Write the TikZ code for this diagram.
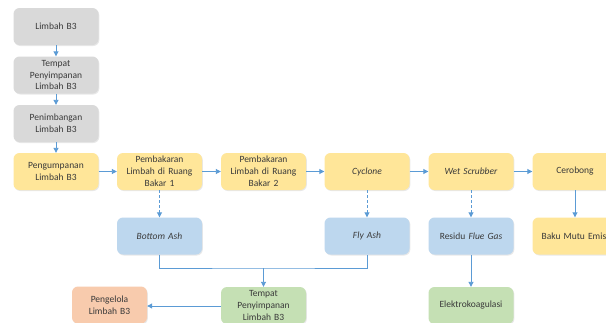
\documentclass[tikz,border=0pt]{standalone}
\usepackage{fontspec}
\setmainfont{Carlito}
\usetikzlibrary{arrows.meta,shadows}
\definecolor{gfill}{HTML}{D9D9D9}
\definecolor{yfill}{HTML}{FFE699}
\definecolor{bfill}{HTML}{BDD7EE}
\definecolor{grfill}{HTML}{C5E0B4}
\definecolor{sfill}{HTML}{F8CBAD}
\definecolor{arr}{HTML}{5B9BD5}
\definecolor{txt}{HTML}{3A3A3A}
\tikzset{
  box/.style={rectangle, rounded corners=6pt, minimum width=85pt, minimum height=37pt,
    text width=80pt, align=center, inner sep=1pt, text=txt,
    font=\fontsize{9.5}{11.8}\selectfont,
    drop shadow={opacity=0.18, shadow xshift=0.8pt, shadow yshift=-1pt}},
  gbox/.style={box, fill=gfill},
  ybox/.style={box, fill=yfill},
  bbox/.style={box, fill=bfill},
  grbox/.style={box, fill=grfill},
  sbox/.style={box, fill=sfill, minimum width=75pt, text width=70pt},
  conn/.style={draw=arr, line width=0.9pt},
  arrow/.style={conn, -{Triangle[length=5pt,width=5pt]}},
  darrow/.style={arrow, dash pattern=on 3pt off 2pt},
}
\begin{document}
\begin{tikzpicture}[x=1pt,y=-1pt]
\useasboundingbox (0,0) rectangle (606,322);
\clip (0,0) rectangle (606,322);
\fill[white] (0,0) rectangle (606,322);
\node[gbox] (g1) at (56,26.5) {Limbah B3};
\node[gbox] (g2) at (56,75) {Tempat\\Penyimpanan\\Limbah B3};
\node[gbox] (g3) at (56,123.5) {Penimbangan\\Limbah B3};
\node[ybox] (y1) at (56,171.5) {Pengumpanan\\Limbah B3};
\node[ybox] (p1) at (159.5,171.5) {Pembakaran\\Limbah di Ruang\\Bakar 1};
\node[ybox] (p2) at (263.5,171.5) {Pembakaran\\Limbah di Ruang\\Bakar 2};
\node[ybox] (cyc) at (367,171.5) {\itshape Cyclone};
\node[ybox] (wet) at (471,171.5) {\itshape Wet Scrubber};
\node[ybox] (cer) at (575,171.5) {Cerobong};
\node[bbox] (bot) at (159.5,236) {\itshape Bottom Ash};
\node[bbox] (fly) at (367,236) {\itshape Fly Ash};
\node[bbox] (res) at (471,236) {Residu \textit{Flue Gas}};
\node[ybox] (baku) at (575,236) {Baku Mutu Emisi};
\node[grbox] (tem) at (263.5,305.5) {Tempat\\Penyimpanan\\Limbah B3};
\node[sbox] (pen) at (109.5,305) {Pengelola\\Limbah B3};
\node[grbox] (ele) at (471,305.5) {Elektrokoagulasi};
\draw[arrow] (g1) -- (g2);
\draw[arrow] (g2) -- (g3);
\draw[arrow] (g3) -- (y1);
\draw[arrow] (y1) -- (p1);
\draw[arrow] (p1) -- (p2);
\draw[arrow] (p2) -- (cyc);
\draw[arrow] (cyc) -- (wet);
\draw[arrow] (wet) -- (cer);
\draw[darrow] (p1) -- (bot);
\draw[darrow] (cyc) -- (fly);
\draw[darrow] (wet) -- (res);
\draw[arrow] (cer) -- (baku);
\draw[arrow] (res) -- (ele);
\coordinate (junc) at (263.5,268);
\draw[conn] (bot.south) |- (junc) -| (fly.south);
\draw[arrow] (junc) -- (tem.north);
\draw[arrow] (tem.west |- 0,306) -- (pen.east |- 0,306);
\end{tikzpicture}
\end{document}
